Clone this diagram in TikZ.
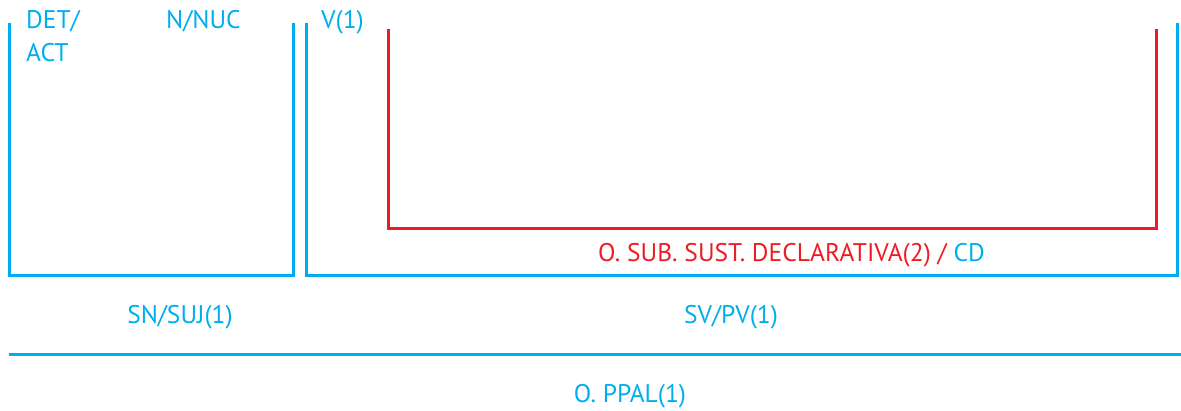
\documentclass[tikz,border=0pt]{standalone}
\usepackage{fontspec}
\setmainfont{PT Sans}
\usetikzlibrary{positioning}
\definecolor{azul}{RGB}{0,174,239}
\definecolor{rojo}{RGB}{237,28,36}

\begin{document}
\begin{tikzpicture}[x=1pt,y=-1pt]
  \tikzset{every node/.style={inner sep=0pt, font=\fontsize{25.5}{30}\selectfont, text=azul}}
  \tikzset{raya/.style={draw=azul, line width=3pt}}
  \tikzset{rayaroja/.style={draw=rojo, line width=3pt}}
  \useasboundingbox (0,0) rectangle (1181,411);
  % caja SN
  \coordinate (sn1) at (9,23);
  \coordinate (sn2) at (9,276);
  \coordinate (sn3) at (293,276);
  \coordinate (sn4) at (293,23);
  \draw [raya] (sn1) -- (sn2) -- (sn3) -- (sn4);
  % caja SV
  \coordinate (sv1) at (306,23);
  \coordinate (sv2) at (306,276);
  \coordinate (sv3) at (1177,276);
  \coordinate (sv4) at (1177,23);
  \draw [raya] (sv1) -- (sv2) -- (sv3) -- (sv4);
  % subordinada
  \coordinate (os1) at (388,29);
  \coordinate (os2) at (388,229);
  \coordinate (os3) at (1156,229);
  \coordinate (os4) at (1156,29);
  \draw [rayaroja] (os1) -- (os2) -- (os3) -- (os4);
  % oracion principal
  \coordinate (op1) at (9,355);
  \coordinate (op2) at (1181,355);
  \draw [raya] (op1) -- (op2);
  % textos
  \node [anchor=base west] (det) at (26,29) {DET/};
  \node [anchor=base west] (act) at (26,62) {ACT};
  \node [anchor=base west] (nuc) at (166,29) {N/NUC};
  \node [anchor=base west] (verbo) at (321,29) {V(1)};
  \node [anchor=base west] (cd) at (598,262) {\color{rojo}O. SUB. SUST. DECLARATIVA(2) / \color{azul}CD};
  \node [anchor=base] (suj) at (180,324) {SN/SUJ(1)};
  \node [anchor=base] (pred) at (731,324) {SV/PV(1)};
  \node [anchor=base] (ppal) at (630,403) {O. PPAL(1)};
\end{tikzpicture}
\end{document}
